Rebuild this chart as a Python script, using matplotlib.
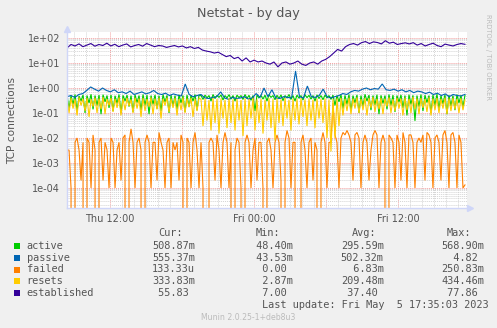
import numpy as np
import matplotlib.pyplot as plt
from matplotlib.lines import Line2D
from matplotlib.patches import Rectangle

# canvas size in pixels
W, H = 497, 328

# time span of the day graph, hours since Thu 00:00
t_start, t_end = 8.42, 41.58
x_lo, x_hi = 8.4167, 41.75

names = ["active", "passive", "failed", "resets", "established"]
colors = ["#00CC00", "#0066B3", "#FF8000", "#FFCC00", "#330099"]

established = [
    40, 55, 48, 58, 45, 52, 60, 47, 55, 50, 62, 48, 56, 45, 52, 58, 44, 50,
    55, 47, 60, 52, 45, 50, 48, 42, 46, 50, 44, 48, 40, 45, 38, 42,
    33, 30, 28, 25, 27, 22, 18, 20, 15, 17, 12, 16, 11,
    13, 11, 12, 10, 9, 11, 7, 10, 11, 9, 10, 12, 9, 8, 10, 11, 9, 12, 14, 18,
    25, 35, 30, 45, 55, 60, 52,
    65, 72, 60, 70, 66, 58, 77.86, 62, 68, 55, 60, 64,
    58, 65, 52, 60, 48, 55, 62, 50, 45, 57, 52, 48, 55, 60, 55.83,
]

passive = [
    0.45, 0.5, 0.42, 0.55, 0.6, 0.8, 1.1, 0.9, 0.75, 1.0, 0.8, 0.7, 0.85,
    0.65, 0.7, 0.6, 0.75, 0.55, 0.62, 0.7, 0.58, 0.65, 0.8, 0.6, 0.55, 0.62,
    0.5, 0.58, 0.52, 0.48, 1.45, 0.55, 0.45, 0.5,
    0.55, 0.4, 0.38, 0.42, 0.45, 0.7, 0.4, 0.35, 0.42, 0.38, 0.4, 0.45, 0.36,
    0.4, 0.6, 0.42, 1.0, 0.45, 0.85, 0.4, 0.38, 0.45, 0.42, 0.4, 4.82, 0.45,
    0.4, 1.2, 0.45, 0.42, 0.5, 0.9, 0.45,
    0.4, 0.45, 0.5, 0.6, 0.55, 0.7, 0.8, 0.75, 0.9, 1.0, 0.85, 0.95, 0.9,
    1.45, 0.85, 0.8, 0.9, 0.75, 0.85, 0.7, 0.8, 0.65, 0.75, 0.7, 0.6, 0.68,
    0.55, 0.62, 0.5, 0.58, 0.45, 0.55, 0.5, 0.48, 0.5554,
]

active = [
    0.52, 0.15, 0.5, 0.22, 0.55, 0.12, 0.48, 0.3, 0.53, 0.1,
    0.5, 0.25, 0.56, 0.14, 0.5, 0.2, 0.52, 0.09, 0.54, 0.28,
    0.5, 0.16, 0.53, 0.12, 0.49, 0.24, 0.55, 0.1, 0.51, 0.3,
    0.52, 0.18, 0.5, 0.11, 0.54, 0.26, 0.5, 0.13, 0.55, 0.2,
    0.52, 0.09, 0.5, 0.22, 0.53, 0.15, 0.49, 0.12, 0.55, 0.27,
    0.51, 0.1, 0.52, 0.19, 0.5, 0.14, 0.54, 0.25, 0.5, 0.11,
    0.53, 0.18, 0.51, 0.3, 0.55, 0.13, 0.52,
    0.5, 0.35, 0.52, 0.4, 0.5, 0.3, 0.55, 0.38, 0.51, 0.42,
    0.53, 0.33, 0.5, 0.4, 0.54, 0.36, 0.5, 0.3, 0.52, 0.41,
    0.5, 0.35, 0.55, 0.38, 0.51, 0.32, 0.5, 0.12, 0.53, 0.4,
    0.5, 0.36, 0.52, 0.3, 0.54, 0.42, 0.5, 0.34, 0.51, 0.38,
    0.53, 0.31, 0.5, 0.4, 0.55, 0.35, 0.5, 0.3, 0.52, 0.39,
    0.5, 0.33, 0.54, 0.41, 0.51, 0.36, 0.5, 0.3, 0.53, 0.38,
    0.5, 0.34, 0.52, 0.4, 0.5,
    0.35, 0.52, 0.2, 0.5, 0.28, 0.54, 0.15, 0.51, 0.22, 0.55,
    0.12, 0.5, 0.25, 0.53, 0.1, 0.5, 0.18, 0.56, 0.3, 0.52,
    0.13, 0.5, 0.21, 0.54, 0.09, 0.51, 0.24, 0.5, 0.14, 0.55,
    0.2, 0.52, 0.11, 0.5, 0.27, 0.53, 0.16, 0.5, 0.08, 0.54,
    0.22, 0.51, 0.0484, 0.5, 0.18, 0.55, 0.12, 0.52, 0.26, 0.5,
    0.1, 0.53, 0.2, 0.5689, 0.15, 0.5, 0.23, 0.54, 0.09, 0.52,
    0.19, 0.5, 0.13, 0.55, 0.25, 0.51, 0.17, 0.5087,
]

resets = [
    0.38, 0.1, 0.4, 0.15, 0.35, 0.08, 0.42, 0.2, 0.37, 0.12,
    0.4, 0.07, 0.36, 0.18, 0.41, 0.1, 0.38, 0.14, 0.43, 0.09,
    0.36, 0.2, 0.4, 0.11, 0.37, 0.16, 0.42, 0.08, 0.38, 0.13,
    0.4, 0.19, 0.35, 0.1, 0.41, 0.15, 0.38, 0.07, 0.4, 0.12,
    0.36, 0.18, 0.42, 0.09, 0.38, 0.14, 0.4, 0.06, 0.37, 0.2,
    0.41, 0.11, 0.38, 0.16, 0.4, 0.08, 0.36, 0.13, 0.42, 0.1,
    0.38, 0.17, 0.4, 0.07, 0.37, 0.12, 0.4,
    0.35, 0.03, 0.38, 0.05, 0.33, 0.02, 0.4, 0.04, 0.36, 0.015,
    0.38, 0.06, 0.34, 0.025, 0.39, 0.04, 0.35, 0.02, 0.37, 0.05,
    0.33, 0.012, 0.38, 0.03, 0.36, 0.06, 0.4, 0.02, 0.35, 0.04,
    0.37, 0.015, 0.34, 0.05, 0.39, 0.025, 0.36, 0.008, 0.38, 0.04,
    0.35, 0.03, 0.4, 0.06, 0.34, 0.02, 0.37, 0.05, 0.36, 0.035,
    0.39, 0.07, 0.35, 0.03, 0.38, 0.05, 0.34, 0.025, 0.37, 0.06,
    0.36, 0.04, 0.38, 0.01, 0.35,
    0.00287, 0.36, 0.01, 0.38, 0.03, 0.4, 0.08, 0.37, 0.12, 0.41,
    0.09, 0.38, 0.15, 0.42, 0.1, 0.36, 0.13, 0.4, 0.08, 0.39,
    0.16, 0.43, 0.11, 0.37, 0.14, 0.4, 0.09, 0.38, 0.18, 0.42,
    0.1, 0.36, 0.12, 0.4, 0.15, 0.38, 0.08, 0.41, 0.13, 0.37,
    0.1, 0.4345, 0.14, 0.38, 0.09, 0.4, 0.16, 0.36, 0.11, 0.42,
    0.08, 0.38, 0.13, 0.4, 0.1, 0.37, 0.15, 0.41, 0.09, 0.38,
    0.12, 0.4, 0.14, 0.36, 0.1, 0.39, 0.13, 0.3338,
]

failed = [
    0.0033, 0.0033, 0.0001, 0, 0.0067, 0.01, 0.0033, 0.0002, 0.0067, 0,
    0.01, 0.0067, 0.0001, 0.0133, 0.0033, 0, 0.0067, 0.01, 0.0002, 0.0067,
    0.0033, 0.0001, 0.01, 0.0067, 0.0001, 0.0033, 0.0067, 0.0002, 0.01, 0.0133,
    0, 0.0067, 0.0233, 0.0067, 0.0001, 0.0067, 0.01, 0.0033, 0, 0.0067,
    0.0133, 0.0067, 0.0001, 0.0067, 0.0067, 0.0002, 0.0167, 0.0067, 0.0033, 0.0001,
    0.0067, 0.01, 0.0001, 0.0067, 0.0033, 0.0067, 0.0002, 0.0133, 0.0067, 0,
    0.01, 0.0067, 0.0001, 0.0067, 0.0167, 0.0033, 0.0001,
    0.0067, 0.0001, 0, 0, 0.0067, 0.01, 0.0067, 0.0002, 0.0133, 0.0033,
    0.0001, 0.0067, 0.0167, 0.0067, 0.0001, 0.0067, 0, 0.0033, 0.01, 0.0067,
    0.0001, 0, 0.0067, 0.0133, 0.0067, 0.0001, 0.0033, 0.01, 0.0002, 0.0067,
    0.0067, 0.0001, 0, 0.0067, 0.01, 0.0033, 0.0001, 0.0067, 0.0133, 0.0067,
    0.0002, 0, 0.0067, 0.02, 0.01, 0.0001, 0.0067, 0.0067, 0, 0,
    0.0067, 0.0133, 0.0033, 0.0001, 0.0067, 0.01, 0.0002, 0.0067, 0.0033, 0,
    0.0067, 0.0167, 0.0067, 0.0001, 0.0067,
    0.0067, 0.2508, 0.0133, 0.0067, 0.0001, 0.01, 0.0167, 0.0133, 0.02, 0.0133,
    0.0067, 0.0002, 0.0133, 0.0167, 0.01, 0.0001, 0.0067, 0.0133, 0.0067, 0.0002,
    0.0033, 0.0133, 0.02, 0.0133, 0.0001, 0.0067, 0.0133, 0.0067, 0, 0.0133,
    0.01, 0.0067, 0.0001, 0.0133, 0.0067, 0.0002, 0.0167, 0.0067, 0.0001, 0.0133,
    0.0133, 0.0067, 0.0001, 0.0067, 0.01, 0.0067, 0.0133, 0.0002, 0.0167, 0.0133,
    0.0067, 0.0001, 0.01, 0.0133, 0.0067, 0.0002, 0.0133, 0.02, 0.0067, 0.0001,
    0.0133, 0.0167, 0.0067, 0.0001, 0.0133, 0.0067, 0.0001, 0.000133,
]

# legend table: Cur, Min, Avg, Max
stats = [
    ["508.87m", " 48.40m", "295.59m", "568.90m"],
    ["555.37m", " 43.53m", "502.32m", "  4.82 "],
    ["133.33u", "  0.00 ", "  6.83m", "250.83m"],
    ["333.83m", "  2.87m", "209.48m", "434.46m"],
    [" 55.83 ", "  7.00 ", " 37.40 ", " 77.86 "],
]
last_update = "Last update: Fri May  5 17:35:03 2023"

x_ticks = [12, 24, 36]
x_ticklabels = ["Thu 12:00", "Fri 00:00", "Fri 12:00"]
y_ticks = [1e-4, 1e-3, 1e-2, 1e-1, 1e0, 1e1, 1e2]
y_ticklabels = ["1e-04", "1e-03", "1e-02", "1e-01", "1e+00", "1e+01", "1e+02"]

series = [active, passive, failed, resets, established]


def fx(px):
    return px / W


def fy(py):
    return 1 - py / H


fig = plt.figure(figsize=(W / 100, H / 100), dpi=100, facecolor="#F0F0F0")
ax = fig.add_axes([fx(67), fy(208), 400 / W, 176 / H])
ax.set_facecolor("white")
ax.set_yscale("log", nonpositive="clip")
ax.set_xlim(x_lo, x_hi)
ax.set_ylim(10 ** -4.8, 10 ** 2.24)

# grid: hours and 2..9 per decade in grey, 6 hours and decades in red
dots = (0, (1, 1))
for h in range(9, 42):
    major = h % 6 == 0
    ax.axvline(h, color="#F2A0A0" if major else "#D4D4D4", lw=0.7,
               ls=dots, zorder=1)
for e in range(-5, 3):
    for m in range(1, 10):
        v = m * 10.0 ** e
        ax.axhline(v, color="#F2A0A0" if m == 1 else "#D4D4D4", lw=0.7,
                   ls=dots, zorder=1)

for vals, c in zip(series, colors):
    t = np.linspace(t_start, t_end, len(vals))
    ax.plot(t, vals, color=c, lw=0.8, zorder=3, solid_joinstyle="miter")

for s in ax.spines.values():
    s.set_visible(False)
ax.set_xticks(x_ticks, x_ticklabels)
ax.set_yticks(y_ticks, y_ticklabels)
ax.minorticks_off()
ax.tick_params(length=0, labelsize=7, labelcolor="#555555", pad=5)
ax.tick_params(axis="x", pad=4)

# axis lines with arrow heads
axis_c = "#CFD6F8"
fig.add_artist(Line2D([fx(67), fx(67)], [fy(208), fy(29)], color=axis_c,
                      lw=1, transform=fig.transFigure))
fig.add_artist(Line2D([fx(67), fx(470)], [fy(208), fy(208)], color=axis_c,
                      lw=1, transform=fig.transFigure))
fig.add_artist(Line2D([fx(67)], [fy(29)], marker="^", ms=4, color=axis_c,
                      transform=fig.transFigure))
fig.add_artist(Line2D([fx(470)], [fy(208)], marker=">", ms=4, color=axis_c,
                      transform=fig.transFigure))

fig.text(fx(248.5), fy(13), "Netstat - by day", ha="center", va="center",
         fontsize=9.2, color="#555555")
fig.text(fx(12), fy(120), "TCP connections", rotation=90, ha="center",
         va="center", fontsize=7.6, color="#555555")
fig.text(fx(488), fy(57), "RRDTOOL / TOBI OETIKER", rotation=270,
         ha="center", va="center", fontsize=4.9, color="#BBBBBB")

mono = dict(family="DejaVu Sans Mono", fontsize=7.4, color="#555555",
            va="center")
col_x = [152.3, 249.8, 340.7, 441.0]
heads = [("Cur:", 158.5), ("Min:", 256.0), ("Avg:", 352.0), ("Max:", 447.0)]
for label, hx in heads:
    fig.text(fx(hx), fy(233), label, **mono)

row_y = [245.7, 257.7, 269.5, 281.3, 293.2]
for name, c, row, ry in zip(names, colors, stats, row_y):
    fig.add_artist(Rectangle((fx(14), fy(ry + 3)), 6 / W, 6 / H,
                             transform=fig.transFigure, color=c, lw=0))
    fig.text(fx(26.7), fy(ry), name, **mono)
    for txt, cx in zip(row, col_x):
        fig.text(fx(cx), fy(ry), txt, **mono)

fig.text(fx(261.7), fy(305), last_update, **mono)
fig.text(fx(248.5), fy(317), "Munin 2.0.25-1+deb8u3", ha="center",
         va="center", fontsize=5.6, color="#BBBBBB")

fig.savefig("out.png", dpi=100, facecolor=fig.get_facecolor())
